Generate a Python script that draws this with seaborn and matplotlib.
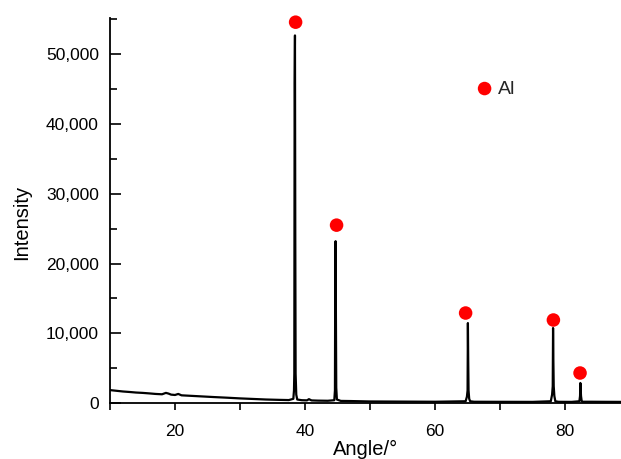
import matplotlib
matplotlib.use("Agg")
import matplotlib.pyplot as plt
import seaborn as sns
import pandas as pd
from matplotlib.ticker import MultipleLocator, StrMethodFormatter

# XRD pattern
angle = [10.0, 11, 12, 13, 14, 15, 16, 17, 18, 18.6, 19.0, 19.4, 20.0, 20.5, 21.0,
         22, 24, 26, 28, 30, 32, 34, 36, 37.5,
         38.2, 38.3, 38.35, 38.4, 38.45, 38.5, 38.55, 38.65, 38.8,
         39.5, 40.3, 40.6, 41, 42, 43.5,
         44.5, 44.6, 44.65, 44.7, 44.75, 44.8, 44.9,
         45.5, 47, 50, 55, 60,
         64.7, 64.9, 65.0, 65.05, 65.1, 65.15, 65.25, 65.4,
         66, 70, 75,
         77.8, 78.0, 78.1, 78.15, 78.2, 78.25, 78.35, 78.5,
         79, 81,
         82.2, 82.3, 82.35, 82.4, 82.45, 82.55, 82.7,
         84, 86, 88.6]
intensity = [1850, 1750, 1650, 1580, 1500, 1450, 1380, 1300, 1250, 1450, 1350, 1200, 1150, 1300, 1100,
             1050, 950, 850, 760, 660, 580, 500, 450, 420,
             600, 1800, 4200, 45800, 52700, 23400, 4200, 1200, 500,
             400, 380, 550, 370, 340, 320,
             400, 1800, 19500, 23200, 12300, 2200, 500,
             300, 280, 220, 200, 180,
             250, 900, 1800, 11460, 6000, 1800, 600, 250,
             180, 170, 160,
             250, 1200, 2400, 10750, 5900, 2400, 1000, 250,
             170, 160,
             250, 1000, 2870, 2000, 1000, 300, 180,
             180, 170, 160]

# Al peak markers
al_angle = [38.55, 44.85, 64.7, 78.2, 82.3]
al_marker = [54600, 25500, 12900, 11900, 4300]

df = pd.DataFrame({"angle": angle, "intensity": intensity})
mk = pd.DataFrame({"angle": al_angle, "intensity": al_marker})

sns.set_theme(style="white")
plt.rcParams["font.family"] = ["Liberation Sans", "DejaVu Sans"]

fig = plt.figure(figsize=(6.21, 4.59), dpi=100)
ax = fig.add_axes([110 / 621, 1 - 403 / 459, 1 - 110 / 621, (403 - 18) / 459])

sns.lineplot(data=df, x="angle", y="intensity", color="black", lw=1.6, ax=ax,
             sort=False, estimator=None)
sns.scatterplot(data=mk, x="angle", y="intensity", color="#ff0000", s=95,
                edgecolor="none", label="Al", ax=ax, zorder=5, clip_on=False)

ax.set_xlim(10, 88.6)
ax.set_ylim(0, 55200)

for s in ["top", "right"]:
    ax.spines[s].set_visible(False)
for s in ["left", "bottom"]:
    ax.spines[s].set_color("black")
    ax.spines[s].set_linewidth(1.3)

ax.xaxis.set_major_locator(MultipleLocator(20))
ax.xaxis.set_minor_locator(MultipleLocator(10))
ax.yaxis.set_major_locator(MultipleLocator(10000))
ax.yaxis.set_minor_locator(MultipleLocator(5000))
ax.yaxis.set_major_formatter(StrMethodFormatter("{x:,.0f}"))

ax.tick_params(axis="x", which="both", direction="out", length=5, width=1.2,
               colors="black", labelsize=12.5, pad=10, bottom=True)
ax.tick_params(axis="y", which="major", direction="in", length=8, width=1.2,
               colors="black", labelsize=12.5, pad=8, left=True)
ax.tick_params(axis="y", which="minor", direction="in", length=5, width=1.2,
               colors="black", left=True)

ax.set_xlabel("Angle/°", fontsize=14.5, color="black", labelpad=0)
ax.set_ylabel("Intensity", fontsize=14.5, color="black")
ax.yaxis.set_label_coords(-0.154, 0.47)
ax.xaxis.set_label_coords(0.5, -0.096)

ax.legend(loc="center left", bbox_to_anchor=(0.714, 0.816), frameon=False,
          fontsize=14, handlelength=1.0, handletextpad=0.2, borderpad=0,
          borderaxespad=0)

fig.savefig("out.png", dpi=100)
